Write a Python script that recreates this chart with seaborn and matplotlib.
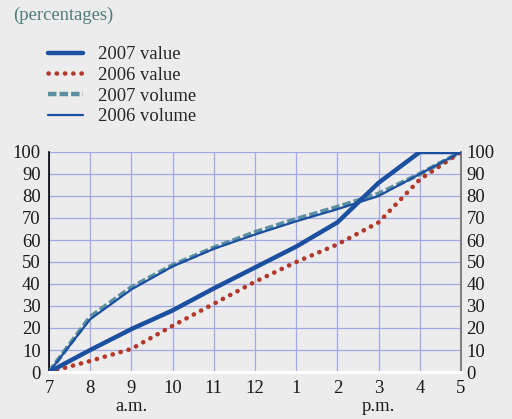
import matplotlib
matplotlib.use("Agg")
import matplotlib.pyplot as plt
import matplotlib.transforms as mtransforms
import pandas as pd
import seaborn as sns

# hours from 7 a.m. to 5 p.m.
hours = list(range(11))
hour_labels = ['7', '8', '9', '10', '11', '12', '1', '2', '3', '4', '5']

value_2007 = [0, 10, 19.5, 28, 38, 47.5, 57, 68, 86, 100, 100]
value_2006 = [0, 5, 10.5, 21, 31, 41, 50, 58, 68, 87.5, 100]
volume_2007 = [0, 25, 38.5, 48.5, 56.5, 63.5, 69.5, 75, 81, 90, 100]
volume_2006 = [0, 24, 37.5, 48, 56, 62.5, 68.5, 74, 80, 90, 100]

df = pd.DataFrame({'hour': hours, '2007 value': value_2007, '2006 value': value_2006,
                   '2007 volume': volume_2007, '2006 volume': volume_2006})

sns.set_style("white")
plt.rcParams['font.family'] = ['Liberation Serif', 'DejaVu Serif']

bg = '#ececec'
blue = '#1b4f9f'
red = '#b3382c'
teal = '#5b8fa2'
grid_c = '#a2aae6'
fs = 13.4

fig = plt.figure(figsize=(5.12, 4.19), dpi=100, facecolor=bg)
ax = fig.add_axes([49/512, 1 - 372/419, 412/512, 220/419])
ax.set_facecolor(bg)

sns.lineplot(data=df, x='hour', y='2007 volume', ax=ax, color=teal, lw=3.2,
             label='2007 volume', zorder=3)
ax.lines[-1].set_linestyle((0, (1.9, 0.7)))
ax.lines[-1].set_dash_capstyle('butt')
sns.lineplot(data=df, x='hour', y='2006 volume', ax=ax, color=blue, lw=1.6,
             label='2006 volume', zorder=4)
sns.lineplot(data=df, x='hour', y='2006 value', ax=ax, color=red, lw=3.3,
             label='2006 value', zorder=3)
ax.lines[-1].set_linestyle((0, (0.05, 1.75)))
ax.lines[-1].set_dash_capstyle('round')
sns.lineplot(data=df, x='hour', y='2007 value', ax=ax, color=blue, lw=3.2,
             label='2007 value', zorder=5)

ax.set_xlim(0, 10)
ax.set_ylim(0, 100)
ax.set_xticks(hours)
ax.set_xticklabels(hour_labels)
ax.set_yticks(range(0, 101, 10))
ax.set_xlabel('')
ax.set_ylabel('')
ax.grid(True, color=grid_c, lw=0.9)
ax.set_axisbelow(True)

ax.spines['top'].set_visible(False)
ax.spines['left'].set_color('black')
ax.spines['left'].set_linewidth(1.2)
ax.spines['right'].set_color('#808080')
ax.spines['right'].set_linewidth(1.5)
ax.spines['bottom'].set_color('white')
ax.spines['bottom'].set_linewidth(2.2)
ax.spines['bottom'].set_zorder(6)

ax.tick_params(axis='x', direction='out', length=5, width=1.2, color='black',
               labelsize=fs, pad=1, labelcolor='#1a1a1a')
ax.tick_params(axis='y', length=0, labelsize=fs, pad=6, labelcolor='#1a1a1a')

ax2 = ax.twinx()
ax2.set_ylim(0, 100)
ax2.set_yticks(range(0, 101, 10))
ax2.tick_params(axis='y', length=0, labelsize=fs, pad=4, labelcolor='#1a1a1a')
for s in ax2.spines.values():
    s.set_visible(False)
ax2.grid(False)

ax.get_legend().remove()
handles, labels = ax.get_legend_handles_labels()
order = ['2007 value', '2006 value', '2007 volume', '2006 volume']
hmap = dict(zip(labels, handles))
fig.legend([hmap[k] for k in order], order, loc='upper left',
           bbox_to_anchor=(48/512, 1 - 46/419), frameon=False, fontsize=fs,
           handlelength=1.9, handletextpad=0.8, labelspacing=0.2,
           borderpad=0, borderaxespad=0)

trans = mtransforms.blended_transform_factory(ax.transData, fig.transFigure)
ax.text(2, 1 - 406/419, 'a.m.', transform=trans, ha='center', va='center',
        fontsize=fs, color='#1a1a1a')
ax.text(8, 1 - 406/419, 'p.m.', transform=trans, ha='center', va='center',
        fontsize=fs, color='#1a1a1a')

fig.text(13/512, 1 - 15/419, '(percentages)', ha='left', va='center',
         fontsize=fs, color='#4f7c7a')

fig.savefig('out.png', dpi=100, facecolor=bg)
